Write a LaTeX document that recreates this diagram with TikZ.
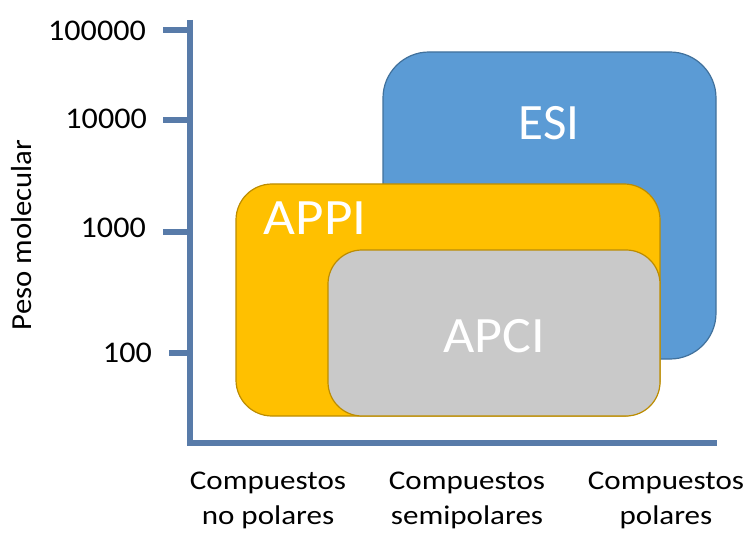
\documentclass[tikz,border=0pt]{standalone}
\usepackage{fontspec}
\setmainfont{Carlito}
\usepackage{graphicx}

\definecolor{axisblue}{HTML}{587BA9}
\definecolor{esifill}{HTML}{5B9BD5}
\definecolor{esiedge}{HTML}{41719C}
\definecolor{appifill}{HTML}{FFC000}
\definecolor{appiedge}{HTML}{BC8C00}
\definecolor{apcifill}{HTML}{C9C9C9}

\newcommand\widen[2]{\scalebox{#1}[1]{#2}}

\begin{document}
\begin{tikzpicture}[x=1pt,y=1pt,
  region/.style={draw, line width=1.2pt, inner sep=0pt, outer sep=0pt},
  regionlabel/.style={text=white, inner sep=0pt, anchor=base,
    font=\fontsize{51}{60}\selectfont},
  axisline/.style={draw=axisblue, line width=6pt},
  ticklabel/.style={anchor=east, inner sep=0pt, font=\fontsize{30}{36}\selectfont},
  classlabel/.style={inner sep=0pt, font=\fontsize{27}{35}\selectfont},
]
\useasboundingbox (0,0) rectangle (746,533);

% ionisation regions
\node[region, fill=esifill, draw=esiedge, rounded corners=46pt,
      minimum width=333pt, minimum height=307pt] (esi) at (549.5,327.5) {};
\node[region, fill=appifill, draw=appiedge, rounded corners=36pt,
      minimum width=424pt, minimum height=232pt] (appi) at (448,233) {};
\node[region, fill=apcifill, draw=appiedge, rounded corners=34pt,
      minimum width=332pt, minimum height=166pt] (apci) at (494,200) {};

\node[regionlabel] (esitext) at (549,393) {ESI};
\node[regionlabel] (appitext) at (315,298) {\widen{1.08}{APPI}};
\node[regionlabel] (apcitext) at (494,181) {\widen{1.06}{APCI}};

% axes
\coordinate (ytop) at (190,513);
\coordinate (origin) at (190,90);
\coordinate (xend) at (717,90);
\draw[axisline, line join=miter] (ytop) -- (origin) -- (xend);

% ticks on the molecular weight axis
\coordinate (t1) at (190,503);
\coordinate (t2) at (190,413);
\coordinate (t3) at (190,301);
\coordinate (t4) at (190,180);
\draw[axisline] (t1) -- ++(-27,0);
\draw[axisline] (t2) -- ++(-27,0);
\draw[axisline] (t3) -- ++(-27,0);
\draw[axisline] (t4) -- ++(-21,0);

\node[ticklabel] (l1) at (146,502) {\widen{1.07}{100000}};
\node[ticklabel] (l2) at (147,414) {\widen{1.07}{10000}};
\node[ticklabel] (l3) at (146,305) {\widen{1.07}{1000}};
\node[ticklabel] (l4) at (152,180) {\widen{1.07}{100}};

\node[rotate=90, inner sep=0pt, font=\fontsize{29}{34}\selectfont] (ylab) at (22,298)
  {\widen{1.06}{Peso molecular}};

% compound classes along the horizontal axis
\node[classlabel] (c1) at (268,33)
  {\widen{1.15}{\begin{tabular}{@{}c@{}}Compuestos\\no polares\end{tabular}}};
\node[classlabel] (c2) at (467,33)
  {\widen{1.15}{\begin{tabular}{@{}c@{}}Compuestos\\semipolares\end{tabular}}};
\node[classlabel] (c3) at (666,33)
  {\widen{1.15}{\begin{tabular}{@{}c@{}}Compuestos\\polares\end{tabular}}};
\end{tikzpicture}
\end{document}
